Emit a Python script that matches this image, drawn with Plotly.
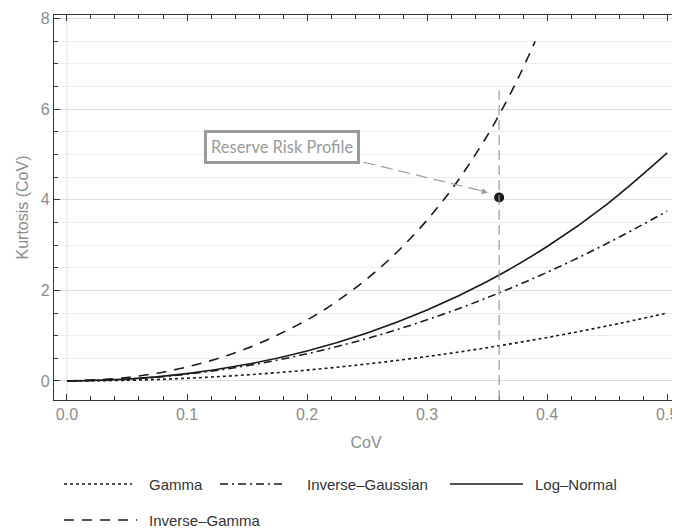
import plotly.graph_objects as go

# ---- data ----
cov = [0.0, 0.05, 0.10, 0.15, 0.20, 0.25, 0.30, 0.35, 0.40, 0.45, 0.50]
gamma = [0.0, 0.015, 0.060, 0.135, 0.240, 0.375, 0.540, 0.735, 0.960, 1.215, 1.500]
inv_gauss = [0.0, 0.0375, 0.150, 0.3375, 0.600, 0.9375, 1.350, 1.8375, 2.400, 3.0375, 3.750]
log_normal = [0.0, 0.040, 0.162, 0.368, 0.664, 1.060, 1.566, 2.196, 2.969, 3.907, 5.035]
cov_ig = [0.0, 0.05, 0.10, 0.15, 0.20, 0.225, 0.25, 0.275, 0.30, 0.325, 0.35, 0.36, 0.375, 0.39]
inv_gamma = [0.0, 0.076, 0.309, 0.720, 1.348, 1.762, 2.257, 2.848, 3.553, 4.397, 5.411, 5.874, 6.638, 7.499]
profile_cov = [0.36]
profile_kurt = [4.05]
profile_label = "Reserve Risk Profile"

series_names = ["Gamma", "Inverse–Gaussian", "Log–Normal", "Inverse–Gamma"]
x_ticks = [0.0, 0.1, 0.2, 0.3, 0.4, 0.5]
x_ticklabels = ["0.0", "0.1", "0.2", "0.3", "0.4", "0.5"]
y_ticks = [0, 2, 4, 6, 8]

LINE = "#1a1a1a"
dashes = ["3px,3px", "8px,4px,2px,4px", "solid", "10px,8px"]
xs = [cov, cov, cov, cov_ig]
ys = [gamma, inv_gauss, log_normal, inv_gamma]

fig = go.Figure()

for name, x, y, d in zip(series_names, xs, ys, dashes):
    fig.add_trace(go.Scatter(x=x, y=y, mode="lines", name=name,
                             line=dict(color=LINE, width=1.6, dash=d, shape="spline"),
                             showlegend=False, hoverinfo="x+y+name"))

# vertical reference line at profile CoV
fig.add_shape(type="line", xref="x", yref="y", x0=profile_cov[0], x1=profile_cov[0],
              y0=-0.42, y1=6.42, line=dict(color="#9a9a9a", width=1.2, dash="10px,5px"))
# vertical grid at x=0
fig.add_shape(type="line", xref="x", yref="paper", x0=0, x1=0, y0=0, y1=1,
              line=dict(color="#e6e6e6", width=1.2), layer="below")

fig.add_trace(go.Scatter(x=profile_cov, y=profile_kurt, mode="markers",
                         marker=dict(color=LINE, size=10), showlegend=False,
                         name=profile_label))

# label box
fig.add_annotation(x=0.1795, y=5.16, xref="x", yref="y", text=profile_label, showarrow=False,
                   font=dict(family="Lato", size=16.5, color="#9a9a9a"),
                   bordercolor="#9a9a9a", borderwidth=3, borderpad=4, bgcolor="white")
# dashed connector
fig.add_shape(type="line", xref="x", yref="y", x0=0.247, y0=4.83, x1=0.342, y1=4.22,
              line=dict(color="#9a9a9a", width=1.2, dash="12px,6px"))
fig.add_annotation(x=0.3505, y=4.15, xref="x", yref="y", ax=-12, ay=-4, text="",
                   showarrow=True, arrowhead=2, arrowsize=1, arrowwidth=1.2,
                   arrowcolor="#9a9a9a")

# manual legend (page pixel positions converted to plot-area fractions)
leg = [
    (64, 132, 147, 484),
    (220, 284, 305, 484),
    (450, 523, 533, 484),
    (64, 137, 147, 520),
]
L, R, T, B = 54, 678, 15, 400
for (sx0, sx1, tx, py), name, d in zip(leg, series_names, dashes):
    yp = (B - py) / (B - T)
    fig.add_shape(type="line", xref="paper", yref="paper",
                  x0=(sx0 - L) / (R - L), x1=(sx1 - L) / (R - L), y0=yp, y1=yp,
                  line=dict(color=LINE, width=1.6, dash=d))
    fig.add_annotation(xref="paper", yref="paper", x=(tx - L) / (R - L), y=yp,
                       xanchor="left", yanchor="middle", text=name, showarrow=False,
                       font=dict(family="Liberation Sans", size=15, color="#333333"))

axis_common = dict(showline=True, linecolor="#333333", linewidth=1.3, mirror="allticks",
                   ticks="inside", tickcolor="#333333", tickwidth=1.3, ticklen=6,
                   tickfont=dict(family="Liberation Sans", size=16, color="#8c8c8c"),
                   zeroline=False, automargin=False)

fig.update_xaxes(range=[-0.0108, 0.509], tickvals=x_ticks, ticktext=x_ticklabels,
                 showgrid=False,
                 minor=dict(ticks="inside", dtick=0.02, tick0=0, ticklen=3.5,
                            tickcolor="#333333", tickwidth=1, showgrid=False),
                 title=dict(text="CoV", font=dict(family="Liberation Sans", size=16, color="#8c8c8c"),
                            standoff=14),
                 **axis_common)
fig.update_yaxes(range=[-0.42, 8.08], tickvals=y_ticks,
                 showgrid=True, gridcolor="#dedede", gridwidth=1.2,
                 minor=dict(ticks="inside", dtick=0.5, tick0=0, ticklen=3.5,
                            tickcolor="#333333", tickwidth=1, showgrid=True,
                            gridcolor="#ececec", gridwidth=1),
                 title=dict(text="Kurtosis (CoV)", font=dict(family="Liberation Sans", size=16, color="#8c8c8c"),
                            standoff=8),
                 **axis_common)

# page body has an 8px margin: size the figure so it fills the 680x531 window
fig.update_layout(width=672, height=523, margin=dict(l=46, r=2, t=7, b=131),
                  plot_bgcolor="white", paper_bgcolor="white", showlegend=False)

fig.write_html("out.html")
